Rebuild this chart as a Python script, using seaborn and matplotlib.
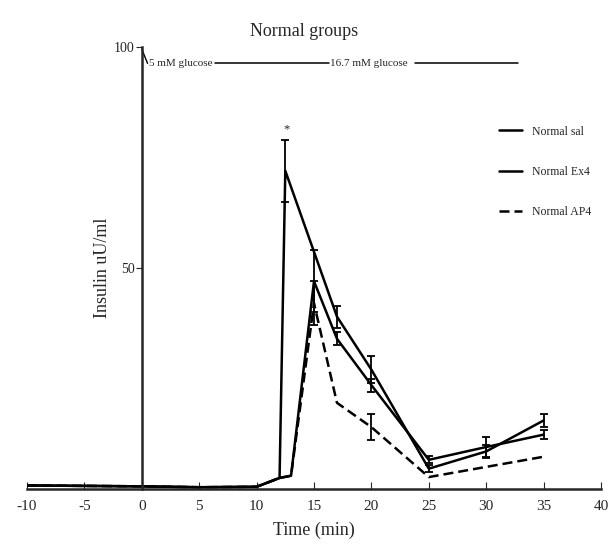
import numpy as np
import pandas as pd
import matplotlib
matplotlib.use("Agg")
import matplotlib.pyplot as plt
import seaborn as sns

# ---- data ----
series_names = ["Normal sal", "Normal Ex4", "Normal AP4"]

sal_time = [-10, -5, 0, 5, 10, 12, 12.5, 17, 20, 25, 30, 35]
sal_insulin = [0.8, 0.7, 0.6, 0.4, 0.5, 2.5, 72, 39, 27, 4.6, 8.5, 15.5]
sal_err = [0, 0, 0, 0, 0, 0, 7, 2.5, 3, 0.8, 1.5, 1.5]

ex4_time = [-10, -5, 0, 5, 10, 12, 13, 15, 17, 20, 25, 30, 35]
ex4_insulin = [0.8, 0.7, 0.6, 0.4, 0.5, 2.5, 3.0, 47, 34, 23.5, 6.6, 9.5, 12.3]
ex4_err = [0, 0, 0, 0, 0, 0, 0, 7, 1.5, 1.5, 0.8, 2.2, 1.0]

ap4_time = [-10, -5, 0, 5, 10, 12, 13, 15, 17, 20, 25, 30, 35]
ap4_insulin = [0.8, 0.7, 0.6, 0.4, 0.5, 2.5, 3.0, 42, 19.5, 14, 2.7, 5, 7.3]
ap4_err = [0, 0, 0, 0, 0, 0, 0, 5, 0, 3, 0, 0, 0]

x_ticks = [-10, -5, 0, 5, 10, 15, 20, 25, 30, 35, 40]
y_ticks = [50, 100]

frames = []
for name, t, v in zip(series_names, [sal_time, ex4_time, ap4_time],
                      [sal_insulin, ex4_insulin, ap4_insulin]):
    frames.append(pd.DataFrame({"Time": t, "Insulin": v, "Group": name}))
df = pd.concat(frames, ignore_index=True)

sns.set_style("ticks")
plt.rcParams["font.family"] = ["Liberation Serif", "DejaVu Serif"]

fig = plt.figure(figsize=(6.08, 5.58), dpi=100)
ax = fig.add_axes([27 / 608, 1 - 489 / 558, 574 / 608, 442 / 558])

sns.lineplot(data=df, x="Time", y="Insulin", hue="Group", style="Group",
             palette={n: "black" for n in series_names},
             dashes={"Normal sal": "", "Normal Ex4": "", "Normal AP4": (4, 2)},
             linewidth=1.8, ax=ax, sort=False, estimator=None)

for t, v, e in zip([sal_time, ex4_time, ap4_time],
                   [sal_insulin, ex4_insulin, ap4_insulin],
                   [sal_err, ex4_err, ap4_err]):
    t = np.array(t); v = np.array(v); e = np.array(e)
    m = e > 0
    ax.errorbar(t[m], v[m], yerr=e[m], fmt="none", ecolor="black",
                elinewidth=1.3, capsize=3, capthick=1.3)

ax.set_xlim(-10, 40)
ax.set_ylim(0, 100)
ax.spines["left"].set_position(("data", 0))
ax.spines["right"].set_visible(False)
ax.spines["top"].set_visible(False)
ax.spines["left"].set_linewidth(1.8)
ax.spines["bottom"].set_linewidth(1.8)
ax.set_xticks(x_ticks)
ax.set_xticklabels([str(v) for v in x_ticks])
ax.set_yticks(y_ticks)
ax.set_yticklabels([str(v) for v in y_ticks])
ax.tick_params(axis="x", direction="in", length=5, labelsize=11, pad=8)
ax.tick_params(axis="y", direction="out", length=4, labelsize=10, pad=1)
ax.set_xlabel("Time (min)", fontsize=13, labelpad=6)
ax.set_ylabel("Insulin uU/ml", fontsize=13, labelpad=2)
fig.text(0.5, 1 - 32 / 558, "Normal groups", ha="center", va="center", fontsize=13)

# significance marker
ax.text(12.6, 80, "*", ha="center", va="bottom", fontsize=9)

# glucose annotation
ax.plot([0, 0.5], [99.5, 96.3], color="black", linewidth=1.0)
ax.text(0.6, 96.3, "5 mM glucose", fontsize=8, va="center", ha="left")
ax.plot([6.4, 16.3], [96.3, 96.3], color="black", linewidth=1.1)
ax.text(16.4, 96.3, "16.7 mM glucose", fontsize=8, va="center", ha="left")
ax.plot([23.8, 32.8], [96.3, 96.3], color="black", linewidth=1.1)

handles, labels = ax.get_legend_handles_labels()
ax.legend(handles, labels, loc="upper left", bbox_to_anchor=(488 / 608, 1 - 115 / 558),
          bbox_transform=fig.transFigure, frameon=False, fontsize=8.5,
          labelspacing=2.4, handlelength=2.0, handletextpad=0.8)

fig.savefig("out.png", dpi=100)
